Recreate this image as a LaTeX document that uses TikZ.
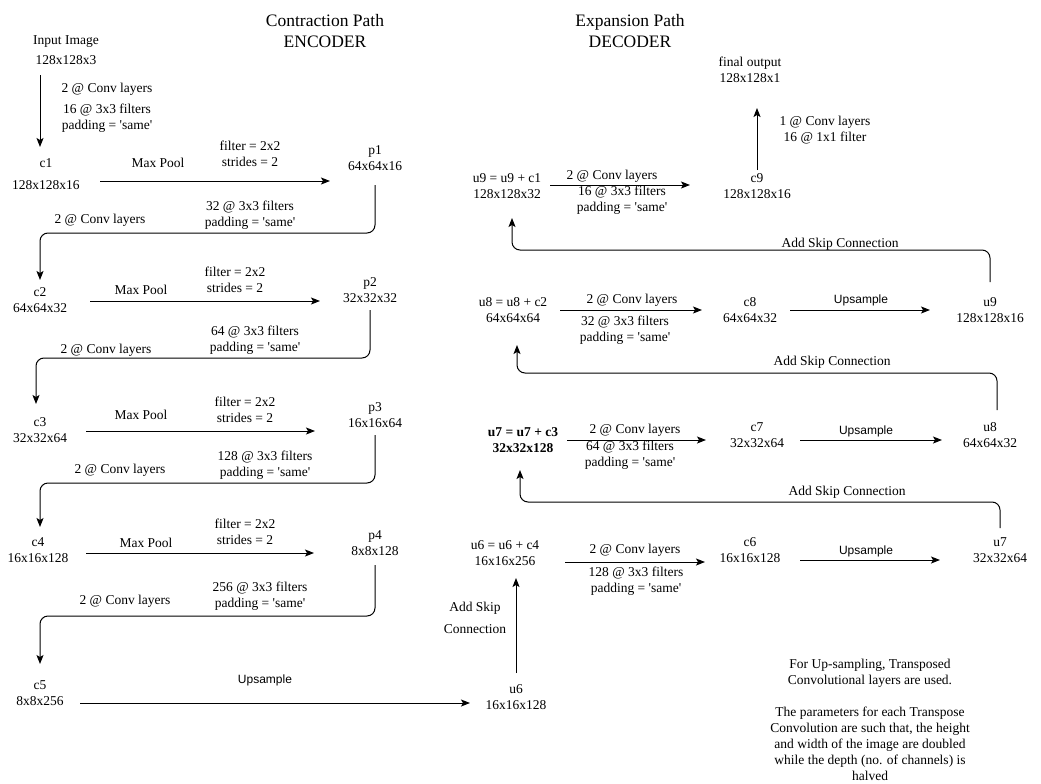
\documentclass[tikz,border=0pt]{standalone}
\usepackage{fontspec}
\setmainfont{Liberation Serif}
\newfontfamily\upfont{Liberation Sans}
\usetikzlibrary{arrows.meta, calc}
\newcommand{\sq}{\textquotesingle}

\begin{document}
\begin{tikzpicture}[
    x=1pt, y=-1pt,
    >={Stealth[length=9pt, width=7pt, inset=2pt]},
    every node/.style={inner sep=2pt, align=center,
      font=\fontsize{13.5}{16}\selectfont},
    title/.style={font=\fontsize{17.5}{21}\selectfont},
    lbl/.style={font=\fontsize{13.5}{16}\selectfont},
    uplbl/.style={font=\upfont\fontsize{12}{14}\selectfont},
    arr/.style={->, line width=1pt, color=black},
    skiparr/.style={->, line width=1pt, color=black, rounded corners=8pt},
  ]
  \useasboundingbox (0,0) rectangle (1041,784);

  % ============ Titles ============
  \node[title] (tenc) at (325,31) {Contraction Path\\ENCODER};
  \node[title] (tdec) at (630,31) {Expansion Path\\DECODER};

  % ============ ENCODER ============
  \node (inp) at (66,50) {Input Image\\[4pt]128x128x3};
  \node[lbl] (conv0) at (107,108) {2 @ Conv layers\\[5pt]16 @ 3x3 filters\\padding = \sq same\sq};

  \node (c1) at (46,174) {c1\\[6pt]128x128x16};
  \node[lbl] (mp1) at (158,163) {Max Pool};
  \node[lbl] (fs1) at (250,154) {filter = 2x2\\strides = 2};
  \node (p1) at (375,158) {p1\\64x64x16};
  \node[lbl] (conv1a) at (100,220) {2 @ Conv layers};
  \node[lbl] (conv1b) at (250,215) {32 @ 3x3 filters\\padding = \sq same\sq};

  \node (c2) at (40,300) {c2\\64x64x32};
  \node[lbl] (mp2) at (141,290) {Max Pool};
  \node[lbl] (fs2) at (235,280) {filter = 2x2\\strides = 2};
  \node (p2) at (370,290) {p2\\32x32x32};
  \node[lbl] (conv2a) at (106,350) {2 @ Conv layers};
  \node[lbl] (conv2b) at (255,340) {64 @ 3x3 filters\\padding = \sq same\sq};

  \node (c3) at (40,430) {c3\\32x32x64};
  \node[lbl] (mp3) at (141,415) {Max Pool};
  \node[lbl] (fs3) at (245,410) {filter = 2x2\\strides = 2};
  \node (p3) at (375,415) {p3\\16x16x64};
  \node[lbl] (conv3a) at (120,470) {2 @ Conv layers};
  \node[lbl] (conv3b) at (265,465) {128 @ 3x3 filters\\padding = \sq same\sq};

  \node (c4) at (38,550) {c4\\16x16x128};
  \node[lbl] (mp4) at (146,543) {Max Pool};
  \node[lbl] (fs4) at (245,532) {filter = 2x2\\strides = 2};
  \node (p4) at (375,543) {p4\\8x8x128};
  \node[lbl] (conv4a) at (125,601) {2 @ Conv layers};
  \node[lbl] (conv4b) at (260,596) {256 @ 3x3 filters\\padding = \sq same\sq};

  \node (c5) at (40,693) {c5\\8x8x256};
  \node[uplbl] (up5) at (265,680) {Upsample};

  % ============ DECODER ============
  \node (u6) at (516,697) {u6\\16x16x128};
  \node[lbl] (skip6) at (475,618) {Add Skip\\[6pt]Connection};
  \node (u6s) at (505,553) {u6 = u6 + c4\\16x16x256};
  \node[lbl] (conv6a) at (635,550) {2 @ Conv layers};
  \node[lbl] (conv6b) at (636,581) {128 @ 3x3 filters\\padding = \sq same\sq};
  \node (c6) at (750,550) {c6\\16x16x128};
  \node[uplbl] (up6) at (866,551) {Upsample};
  \node (u7) at (1000,550) {u7\\32x32x64};

  \node[lbl] (skip7) at (847,492) {Add Skip Connection};
  \node[font=\fontsize{13.5}{16}\selectfont\bfseries] (u7s) at (523,440) {u7 = u7 + c3\\32x32x128};
  \node[lbl] (conv7a) at (635,430) {2 @ Conv layers};
  \node[lbl] (conv7b) at (630,455) {64 @ 3x3 filters\\padding = \sq same\sq};
  \node (c7) at (757,435) {c7\\32x32x64};
  \node[uplbl] (up7) at (866,431) {Upsample};
  \node (u8) at (990,435) {u8\\64x64x32};

  \node[lbl] (skip8) at (832,362) {Add Skip Connection};
  \node (u8s) at (513,310) {u8 = u8 + c2\\64x64x64};
  \node[lbl] (conv8a) at (632,300) {2 @ Conv layers};
  \node[lbl] (conv8b) at (625,330) {32 @ 3x3 filters\\padding = \sq same\sq};
  \node (c8) at (750,310) {c8\\64x64x32};
  \node[uplbl] (up8) at (861,300) {Upsample};
  \node (u9) at (990,310) {u9\\128x128x16};

  \node[lbl] (skip9) at (840,244) {Add Skip Connection};
  \node (u9s) at (507,186) {u9 = u9 + c1\\128x128x32};
  \node[lbl] (conv9a) at (612,176) {2 @ Conv layers};
  \node[lbl] (conv9b) at (622,200) {16 @ 3x3 filters\\padding = \sq same\sq};
  \node (c9) at (757,186) {c9\\128x128x16};
  \node[lbl] (conv10) at (825,130) {1 @ Conv layers\\16 @ 1x1 filter};
  \node (out) at (750,70) {final output\\128x128x1};

  % ============ Note ============
  \node[lbl] (note) at (870,720) {For Up-sampling, Transposed\\Convolutional layers are used.\\[16pt]
    The parameters for each Transpose\\Convolution are such that, the height\\
    and width of the image are doubled\\while the depth (no. of channels) is\\halved};

  % ============ Arrows: encoder ============
  \draw[arr] ($(inp)+(-26,25)$) -- ($(c1)+(-6,-27)$);
  \draw[arr] ($(c1)+(54,7)$) -- ($(p1)+(-45,23)$);
  \draw[skiparr] ($(p1)+(0,27)$) -- ++(0,48) -| ($(c2)+(0,-20)$);
  \draw[arr] ($(c2)+(50,1)$) -- ($(p2)+(-50,11)$);
  \draw[skiparr] ($(p2)+(0,20)$) -- ++(0,48) -| ($(c3)+(-4,-26)$);
  \draw[arr] ($(c3)+(46,1)$) -- ($(p3)+(-60,16)$);
  \draw[skiparr] ($(p3)+(0,20)$) -- ++(0,48) -| ($(c4)+(2,-23)$);
  \draw[arr] ($(c4)+(48,3)$) -- ($(p4)+(-61,10)$);
  \draw[skiparr] ($(p4)+(0,22)$) -- ++(0,51) -| ($(c5)+(0,-29)$);
  \draw[arr] ($(c5)+(40,10)$) -- ($(u6)+(-46,6)$);

  % ============ Arrows: decoder ============
  \draw[arr] ($(u6)+(0,-24)$) -- ($(u6s)+(11,25)$);
  \draw[arr] ($(u6s)+(60,9)$) -- ($(c6)+(-45,12)$);
  \draw[arr] ($(c6)+(50,10)$) -- ($(u7)+(-60,10)$);
  \draw[skiparr] ($(u7)+(0,-22)$) -- ++(0,-26) -| ($(u7s)+(-3,30)$);
  \draw[arr] ($(u7s)+(44,0)$) -- ($(c7)+(-51,5)$);
  \draw[arr] ($(c7)+(43,5)$) -- ($(u8)+(-48,5)$);
  \draw[skiparr] ($(u8)+(7,-25)$) -- ++(0,-37) -| ($(u8s)+(4,35)$);
  \draw[arr] ($(u8s)+(47,0)$) -- ($(c8)+(-48,0)$);
  \draw[arr] ($(c8)+(40,0)$) -- ($(u9)+(-60,0)$);
  \draw[skiparr] ($(u9)+(0,-28)$) -- ++(0,-32) -| ($(u9s)+(5,32)$);
  \draw[arr] ($(u9s)+(43,-1)$) -- ($(c9)+(-67,-1)$);
  \draw[arr] ($(c9)+(0,-16)$) -- ($(out)+(7,38)$);

\end{tikzpicture}
\end{document}
